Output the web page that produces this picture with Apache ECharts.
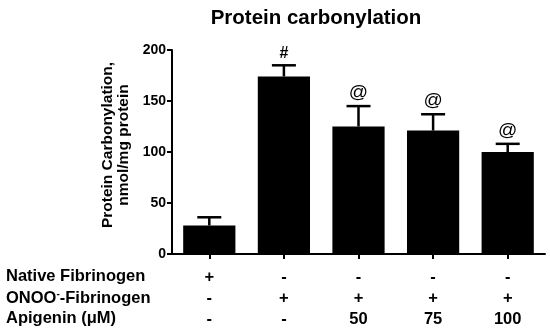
<!DOCTYPE html>
<html><head><meta charset="utf-8">
<script src="https://cdn.jsdelivr.net/npm/echarts@6/dist/echarts.min.js"></script>
<style>html,body{margin:0;padding:0;background:#fff}#c{width:550px;height:334px}</style>
</head><body><div id="c"></div>
<script>
var categories = ['G1', 'G2', 'G3', 'G4', 'G5'];
var means = [28, 174, 125, 121, 100];
var errors = [8, 11, 20, 16, 8];
var marks = ['', '#', '@', '@', '@'];
var yTicks = [0, 50, 100, 150, 200];
var rowNames = ['Native Fibrinogen', 'ONOO{sup|-}-Fibrinogen', 'Apigenin ({mu|\u03bc}M)'];
var rowNative = ['+', '-', '-', '-', '-'];
var rowOnoo = ['-', '+', '+', '+', '+'];
var rowApigenin = ['-', '-', '50', '75', '100'];

var font = 'Liberation Sans, Arial, sans-serif';
var chart = echarts.init(document.getElementById('c'), null, {renderer: 'canvas'});

function rowAxis(vals, offset) {
  return {
    type: 'category', data: categories, position: 'bottom', offset: offset,
    axisLine: {show: false}, axisTick: {show: false}, splitLine: {show: false},
    axisLabel: {formatter: function (v, i) { return vals[i]; }, color: '#000',
      fontFamily: font, fontWeight: 'bold', fontSize: 16.5, margin: 0}
  };
}

var errData = categories.map(function (c, i) { return [i, means[i], errors[i], marks[i]]; });

chart.setOption({
  animation: false,
  title: {text: 'Protein carbonylation', left: 311, top: 3, textAlign: 'center',
    textStyle: {fontFamily: font, fontWeight: 'bold', fontSize: 20.5, color: '#000'}},
  grid: {left: 172, right: 5, top: 50, bottom: 80, containLabel: false},
  xAxis: [
    {type: 'category', data: categories,
      axisLine: {lineStyle: {color: '#000', width: 2}},
      axisTick: {show: true, alignWithLabel: true, length: 5, lineStyle: {color: '#000', width: 2}},
      axisLabel: {show: false}},
    rowAxis(rowNative, 15),
    rowAxis(rowOnoo, 36),
    rowAxis(rowApigenin, 57)
  ],
  yAxis: {type: 'value', min: 0, max: 200, interval: 50,
    name: 'Protein Carbonylation,\nnmol/mg protein', nameLocation: 'middle', nameGap: 37,
    nameRotate: 90,
    nameTextStyle: {fontFamily: font, fontWeight: 'bold', fontSize: 15.5, color: '#000', lineHeight: 16, padding: [0, 0, 0, 14]},
    axisLine: {show: true, lineStyle: {color: '#000', width: 2}},
    axisTick: {show: true, length: 5, lineStyle: {color: '#000', width: 2}},
    splitLine: {show: false},
    axisLabel: {color: '#000', fontFamily: font, fontWeight: 'bold', fontSize: 14, margin: 6,
      formatter: function (v) { return yTicks.indexOf(v) >= 0 ? String(v) : ''; }}
  },
  graphic: rowNames.map(function (n, i) {
    return {type: 'text', left: 6, top: 268 + i * 21,
      style: {text: n, fontFamily: font, fontWeight: 'bold', fontSize: 16.5, fill: '#000',
        rich: {sup: {fontSize: 10, fontWeight: 'bold', fontFamily: font, verticalAlign: 'top', padding: [0, 0, 9, 0]},
               mu: {fontSize: 16.5, fontWeight: 'bold', fontFamily: font}}}};
  }),
  series: [
    {type: 'bar', data: means, barWidth: '70%', itemStyle: {color: '#000'}, z: 2},
    {type: 'custom', data: errData, z: 3,
      renderItem: function (params, api) {
        var x = api.value(0), m = api.value(1), e = api.value(2), mk = api.value(3);
        var top = api.coord([x, m + e]);
        var base = api.coord([x, m]);
        var hw = 12;
        var children = [
          {type: 'line', shape: {x1: top[0], y1: top[1], x2: base[0], y2: base[1]}, style: {stroke: '#000', lineWidth: 2.5}},
          {type: 'line', shape: {x1: top[0] - hw, y1: top[1], x2: top[0] + hw, y2: top[1]}, style: {stroke: '#000', lineWidth: 2.5}}
        ];
        if (mk) {
          children.push({type: 'text', x: top[0], y: top[1] - 4,
            style: {text: mk, fontFamily: font, fontWeight: mk === '#' ? 'bold' : 'normal', fontSize: mk === '#' ? 16 : 19, fill: '#000',
              align: 'center', verticalAlign: 'bottom'}});
        }
        return {type: 'group', children: children};
      }}
  ]
});
</script></body></html>
